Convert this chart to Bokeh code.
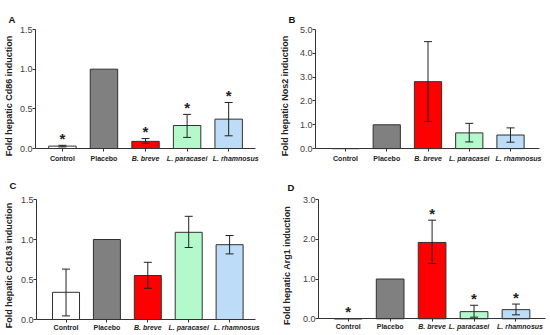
from bokeh.plotting import figure
from bokeh.models import (Range1d, FixedTicker, NumeralTickFormatter, Whisker, TeeHead,
                          ColumnDataSource)
from bokeh.layouts import column, row
from bokeh.embed import file_html
from bokeh.resources import INLINE
from bokeh.core.properties import value

categories = ["Control", "Placebo", "B. breve", "L. paracasei", "L. rhamnosus"]
label_styles = ["bold", "bold", "bold italic", "bold italic", "bold italic"]
bar_colors = ["#ffffff", "#808080", "#ff0000", "#b3f9cb", "#bddcf7"]

# Panel A: Cd86
cd86_mean = [0.03, 1.0, 0.09, 0.29, 0.37]
cd86_low = [0.02, None, 0.065, 0.14, 0.16]
cd86_high = [0.04, None, 0.125, 0.43, 0.58]
cd86_star = [True, False, True, True, True]
cd86_ticks = [0.0, 0.5, 1.0, 1.5]

# Panel B: Nos2
nos2_mean = [0.0, 1.0, 2.81, 0.66, 0.57]
nos2_low = [None, None, 1.14, 0.28, 0.27]
nos2_high = [None, None, 4.49, 1.06, 0.87]
nos2_star = [False, False, False, False, False]
nos2_ticks = [0.0, 1.0, 2.0, 3.0, 4.0, 5.0]

# Panel C: Cd163
cd163_mean = [0.34, 1.0, 0.55, 1.09, 0.935]
cd163_low = [0.045, None, 0.39, 0.90, 0.82]
cd163_high = [0.63, None, 0.715, 1.29, 1.05]
cd163_star = [False, False, False, False, False]
cd163_ticks = [0.0, 0.5, 1.0, 1.5]

# Panel D: Arg1
arg1_mean = [0.0, 1.0, 1.92, 0.18, 0.23]
arg1_low = [None, None, 1.39, 0.04, 0.10]
arg1_high = [None, None, 2.48, 0.34, 0.37]
arg1_star = [True, False, True, True, True]
arg1_ticks = [0.0, 1.0, 2.0, 3.0]

FONT = "Liberation Sans"
AXIS_COLOR = "#333333"


def panel(letter, ytitle, mean, low, high, star, ticks, xr, xbounds, width, height,
          bl, br, bt, bb, zero_px, letter_dx, letter_standoff, title_standoff,
          label_dy, label_dx):
    ymax = ticks[-1]
    frame_h = height - bt - bb
    ymin = -ymax * (frame_h - zero_px) / zero_px
    p = figure(width=width, height=height, x_range=Range1d(*xr),
               y_range=Range1d(ymin, ymax), output_backend="svg",
               toolbar_location=None, min_border_left=bl, min_border_right=br,
               min_border_top=bt, min_border_bottom=bb)
    p.outline_line_color = None
    p.xgrid.visible = False
    p.ygrid.visible = False

    p.title.text = letter
    p.title.align = "left"
    p.title.offset = letter_dx
    p.title.standoff = letter_standoff
    p.title.text_font = FONT
    p.title.text_font_size = "9.5px"
    p.title.text_font_style = "bold"
    p.title.text_color = "#111111"

    xs = list(range(len(categories)))
    src = ColumnDataSource(dict(x=xs, top=mean, color=bar_colors))
    p.vbar(x="x", top="top", bottom=0, width=0.66, fill_color="color",
           line_color="#303030", line_width=1, source=src)

    ex = [i for i in xs if low[i] is not None]
    esrc = ColumnDataSource(dict(x=ex, lower=[low[i] for i in ex],
                                 upper=[high[i] for i in ex]))
    w = Whisker(base="x", lower="lower", upper="upper", source=esrc,
                dimension="height", line_color="#222222", line_width=1,
                upper_head=TeeHead(size=8, line_color="#222222", line_width=1),
                lower_head=TeeHead(size=8, line_color="#222222", line_width=1),
                level="annotation")
    p.add_layout(w)

    sx = [i for i in xs if star[i]]
    sy = [high[i] if high[i] is not None else mean[i] for i in sx]
    if sx:
        p.text(x=sx, y=sy, text=["*"] * len(sx), text_font=value(FONT),
               text_font_size="15px", text_font_style="bold", text_align="center",
               text_baseline="alphabetic", y_offset=-7, text_color="#222222")

    # category labels drawn in the frame just below the zero line
    lsrc = ColumnDataSource(dict(x=xs, y=[0] * len(xs), t=categories, s=label_styles,
                                 dx=label_dx))
    p.text(x="x", y="y", text="t", text_font_style="s", x_offset="dx", source=lsrc,
           text_font=value(FONT), text_font_size="7px", text_align="center",
           text_baseline="middle", y_offset=label_dy, text_color="#222222")

    # x axis fixed at zero
    xa = p.xaxis[0]
    xa.fixed_location = 0
    xa.bounds = xbounds
    xa.ticker = FixedTicker(ticks=xs)
    xa.major_label_overrides = {i: "" for i in xs}
    xa.major_label_text_font_size = "1px"
    xa.major_label_standoff = 0
    xa.major_tick_in = 0
    xa.major_tick_out = 3
    xa.minor_tick_line_color = None
    xa.axis_line_color = AXIS_COLOR
    xa.major_tick_line_color = AXIS_COLOR

    # y axis
    ya = p.yaxis[0]
    ya.bounds = (0, ymax)
    ya.ticker = FixedTicker(ticks=ticks)
    ya.formatter = NumeralTickFormatter(format="0.0")
    ya.major_label_text_font = FONT
    ya.major_label_text_font_size = "9px"
    ya.major_label_text_color = "#404040"
    ya.major_label_standoff = 0
    ya.major_tick_in = 0
    ya.major_tick_out = 3
    ya.minor_tick_line_color = None
    ya.axis_line_color = AXIS_COLOR
    ya.major_tick_line_color = AXIS_COLOR
    ya.axis_label = ytitle
    ya.axis_label_text_font = FONT
    ya.axis_label_text_font_size = "9px"
    ya.axis_label_text_font_style = "bold"
    ya.axis_label_text_color = "#222222"
    ya.axis_label_standoff = title_standoff
    return p


pa = panel("A", "Fold hepatic Cd86 induction", cd86_mean, cd86_low, cd86_high,
           cd86_star, cd86_ticks, (-0.647, 4.838), (-0.647, 4.647), 275, 166,
           34, 12, 29, 4, 119, -27, 10, 3, 10, [0, 0, 0, 0, 7])
pb = panel("B", "Fold hepatic Nos2 induction", nos2_mean, nos2_low, nos2_high,
           nos2_star, nos2_ticks, (-0.727, 4.848), (-0.727, 4.70), 275, 166,
           40, 5, 28, 4, 120, -27, 9, 7, 10, [0, 0, 0, 0, 8])
pc = panel("C", "Fold hepatic Cd163 induction", cd163_mean, cd163_low, cd163_high,
           cd163_star, cd163_ticks, (-0.722, 4.829), (-0.722, 4.635), 275, 169,
           34, 12, 33, 4, 120, -27, 17, 4, 8, [0, 0, 0, 0, 7])
pd = panel("D", "Fold hepatic Arg1 induction", arg1_mean, arg1_low, arg1_high,
           arg1_star, arg1_ticks, (-0.708, 4.775), (-0.708, 4.703), 275, 169,
           43, 2, 30, 4, 122, -31, 14, 8, 8, [0, 0, 0, -5, 4])

layout = column(row(pa, pb), row(pc, pd))
open("out.html", "w").write(file_html(layout, INLINE))
